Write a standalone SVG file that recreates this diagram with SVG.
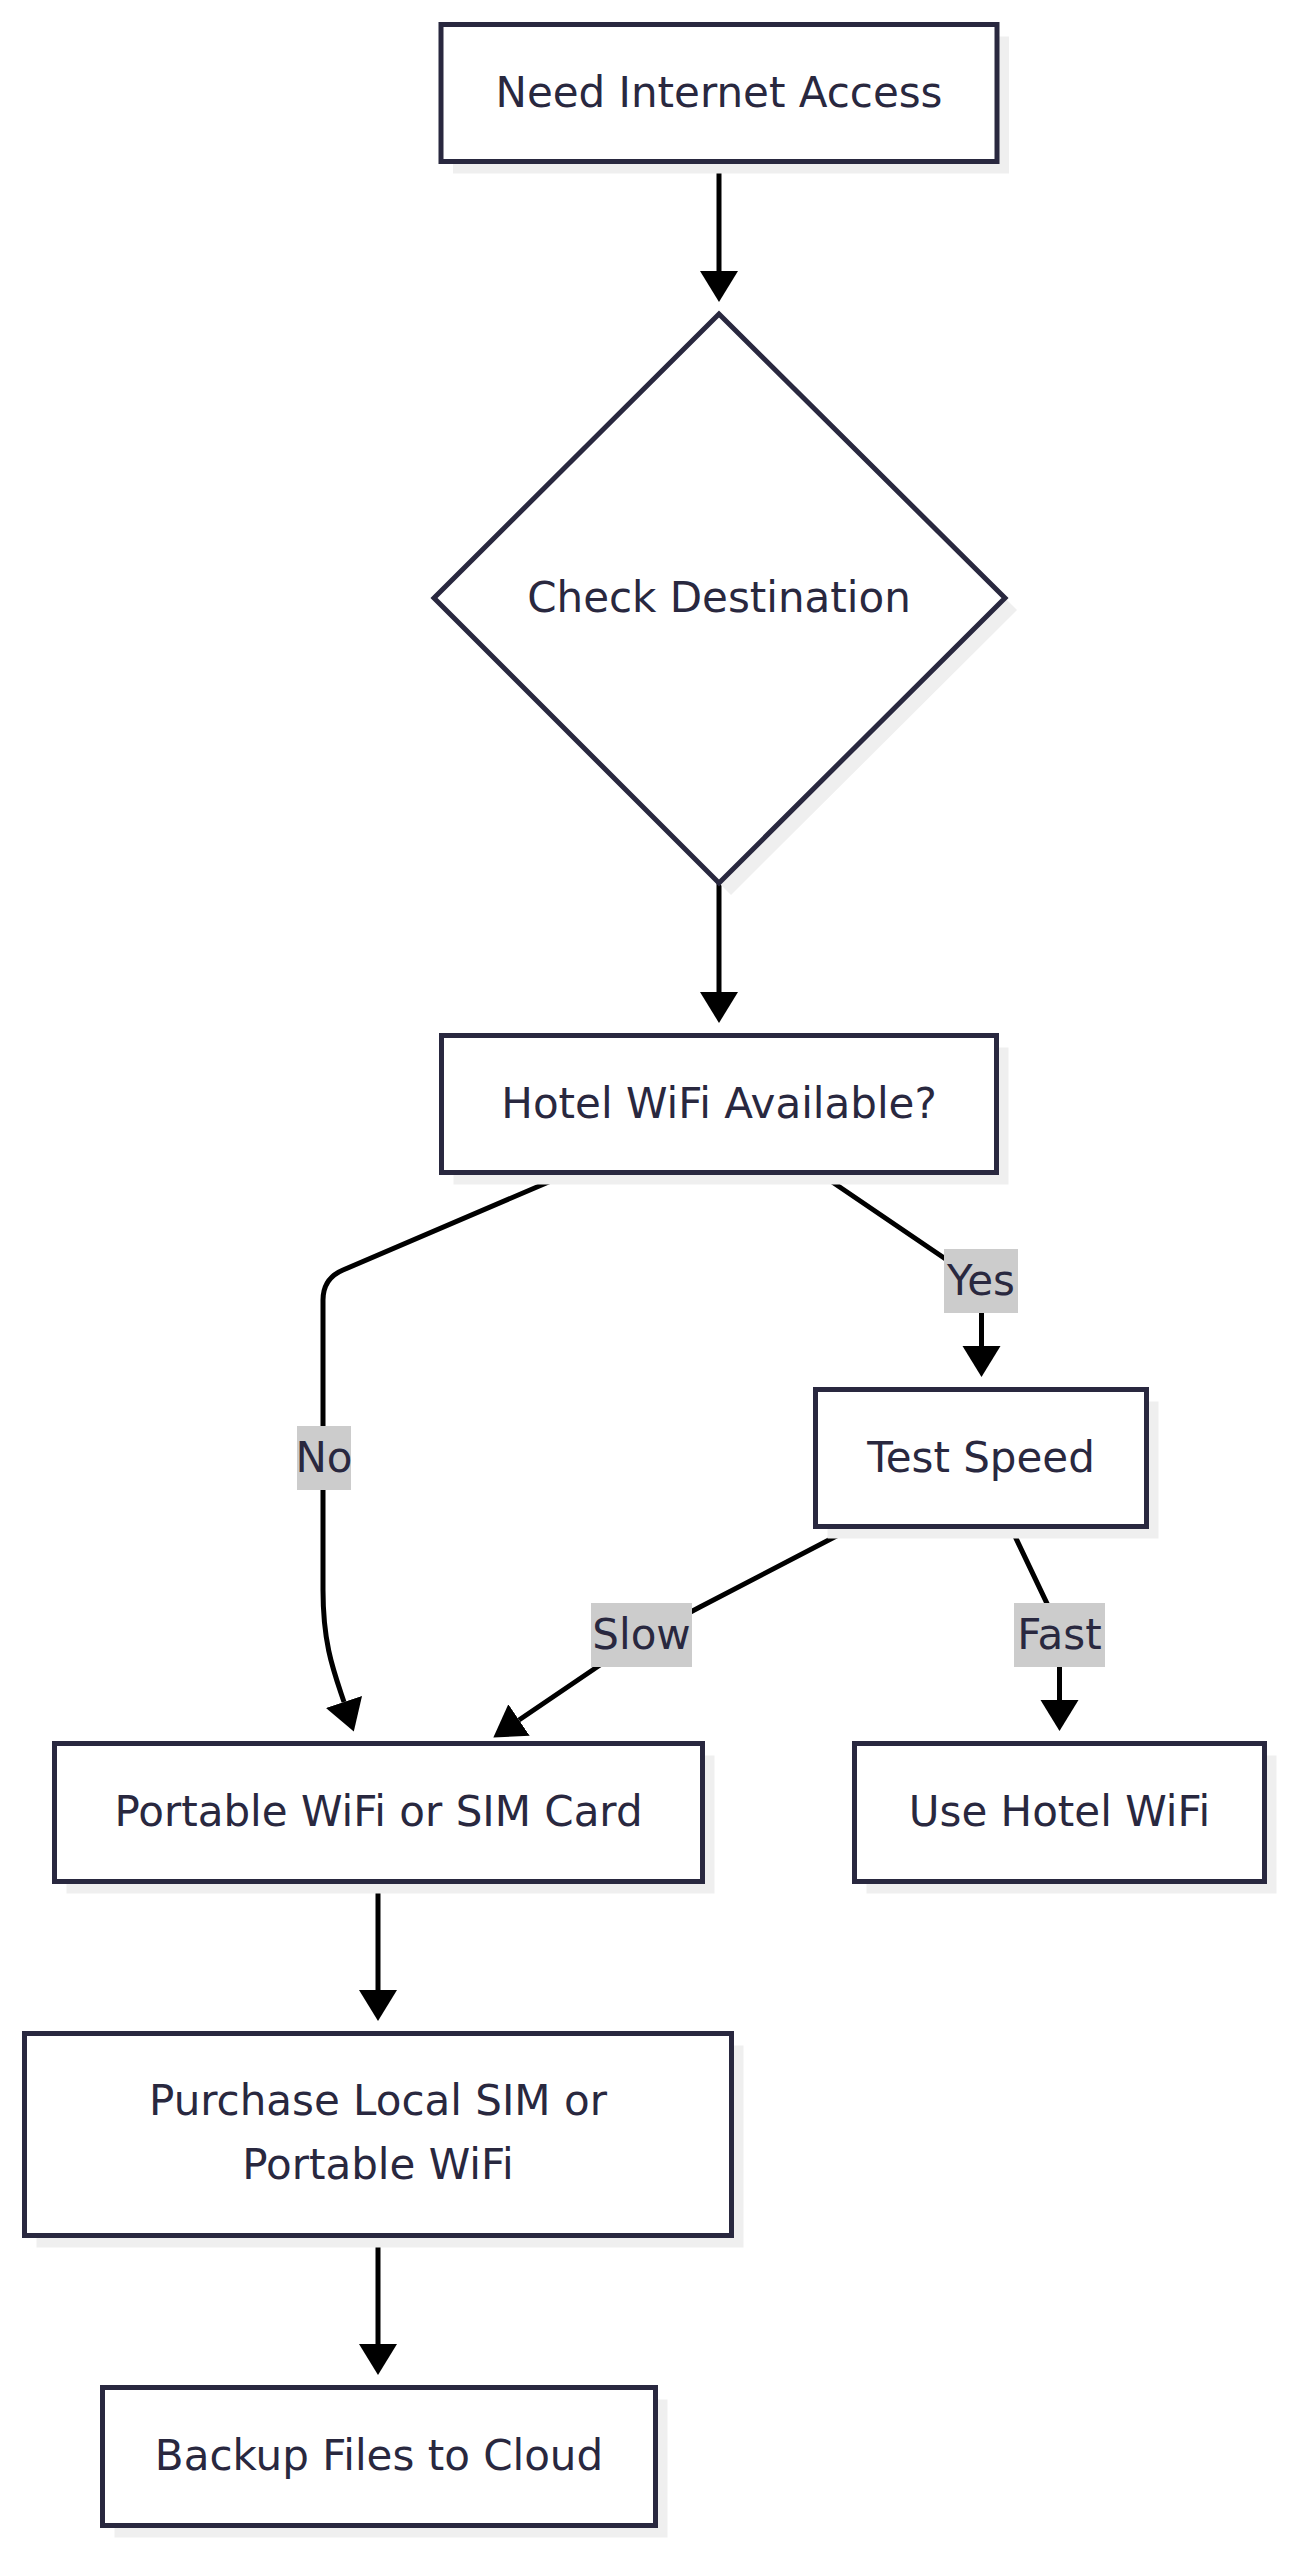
<svg xmlns="http://www.w3.org/2000/svg" width="1294" height="2560" viewBox="0 0 1294 2560">
  <style>
    .node { fill: #ffffff; stroke: #29283f; stroke-width: 5; }
    .shadow { fill: #efefef; stroke: none; }
    .label { font-family: "DejaVu Sans", "Noto Sans", sans-serif; font-size: 42px; fill: #29283f; text-anchor: middle; }
    .edge { fill: none; stroke: #000000; stroke-width: 5; }
    .elabel-bg { fill: #cccccc; }
  </style>
  <defs>
    <marker id="arrow" markerUnits="userSpaceOnUse" markerWidth="32" markerHeight="40" refX="0" refY="19" orient="auto" viewBox="0 0 32 38">
      <path d="M0,0 L31,19 L0,38 Z" fill="#000000"/>
    </marker>
  </defs>
  <rect x="0" y="0" width="1294" height="2560" fill="#ffffff"/>

  <g id="edges">
    <path class="edge" d="M719,164 L719,271" marker-end="url(#arrow)"/>
    <path class="edge" d="M719,883 L719,992" marker-end="url(#arrow)"/>
    <path class="edge" d="M565,1175 L343,1270 Q323,1278.5 323,1300 L323,1590 C323,1645 334,1672 344,1702" marker-end="url(#arrow)"/>
    <path class="edge" d="M822,1175 L950,1262 Q981.5,1283 981.5,1305 L981.5,1346" marker-end="url(#arrow)"/>
    <path class="edge" d="M848,1530 L700,1607 Q641,1638 600,1665 L519,1720" marker-end="url(#arrow)"/>
    <path class="edge" d="M1012,1530 L1053,1616 Q1059.5,1628 1059.5,1640 L1059.5,1700" marker-end="url(#arrow)"/>
    <path class="edge" d="M378,1884 L378,1990" marker-end="url(#arrow)"/>
    <path class="edge" d="M378,2238 L378,2344" marker-end="url(#arrow)"/>
    <g id="edge-labels">
      <rect class="elabel-bg" x="297" y="1426" width="54" height="64"/>
      <text class="label" x="324" y="1472">No</text>
      <rect class="elabel-bg" x="944" y="1249" width="74" height="64"/>
      <text class="label" x="981" y="1295">Yes</text>
      <rect class="elabel-bg" x="591" y="1603" width="101" height="64"/>
      <text class="label" x="641.5" y="1649">Slow</text>
      <rect class="elabel-bg" x="1014" y="1603" width="91" height="64"/>
      <text class="label" x="1059.5" y="1649">Fast</text>
    </g>
  </g>

  <g id="need-internet-access">
    <rect class="shadow" x="453" y="36.5" width="556" height="137"/>
    <rect class="node" x="441" y="24.5" width="556" height="137"/>
    <text class="label" x="719" y="107">Need Internet Access</text>
  </g>

  <g id="check-destination">
    <polygon class="shadow" points="731,326 1017,610 731,895 446,610"/>
    <polygon class="node" points="719,314 1005,598 719,883 434,598"/>
    <text class="label" x="719" y="612">Check Destination</text>
  </g>

  <g id="hotel-wifi-available">
    <rect class="shadow" x="453.5" y="1047.5" width="555" height="137"/>
    <rect class="node" x="441.5" y="1035.5" width="555" height="137"/>
    <text class="label" x="719" y="1118">Hotel WiFi Available?</text>
  </g>

  <g id="test-speed">
    <rect class="shadow" x="827.5" y="1401.5" width="331" height="137"/>
    <rect class="node" x="815.5" y="1389.5" width="331" height="137"/>
    <text class="label" x="981" y="1472">Test Speed</text>
  </g>

  <g id="portable-wifi-or-sim">
    <rect class="shadow" x="66.5" y="1755.5" width="648" height="138"/>
    <rect class="node" x="54.5" y="1743.5" width="648" height="138"/>
    <text class="label" x="378.5" y="1826">Portable WiFi or SIM Card</text>
  </g>

  <g id="use-hotel-wifi">
    <rect class="shadow" x="866.5" y="1755.5" width="410" height="138"/>
    <rect class="node" x="854.5" y="1743.5" width="410" height="138"/>
    <text class="label" x="1059.5" y="1826">Use Hotel WiFi</text>
  </g>

  <g id="purchase-local-sim">
    <rect class="shadow" x="36.5" y="2045.5" width="707" height="202"/>
    <rect class="node" x="24.5" y="2033.5" width="707" height="202"/>
    <text class="label" x="378" y="2115">Purchase Local SIM or</text>
    <text class="label" x="378" y="2179">Portable WiFi</text>
  </g>

  <g id="backup-files-to-cloud">
    <rect class="shadow" x="114.5" y="2399.5" width="553" height="138"/>
    <rect class="node" x="102.5" y="2387.5" width="553" height="138"/>
    <text class="label" x="379" y="2470">Backup Files to Cloud</text>
  </g>
</svg>
